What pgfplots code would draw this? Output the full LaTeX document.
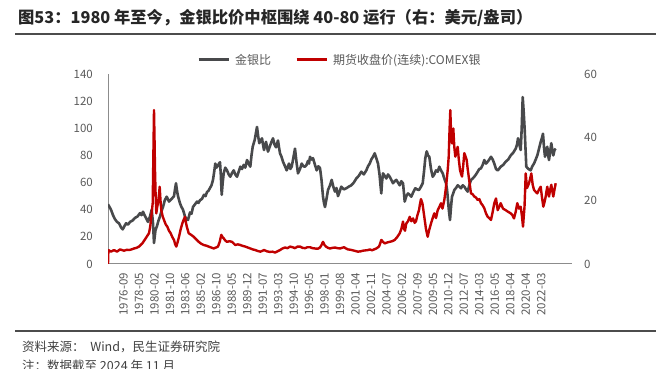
\documentclass[border=0pt]{standalone}
\usepackage{fontspec}
\setmainfont{Noto Sans CJK SC}
\usepackage{pgfplots}
\pgfplotsset{compat=1.18}
\definecolor{gline}{HTML}{48494B}
\definecolor{rline}{HTML}{C00000}
\definecolor{tickc}{HTML}{595959}
\definecolor{axl}{HTML}{8C8C8C}
\begin{document}
\begin{tikzpicture}[x=1pt,y=1pt]
\useasboundingbox (0,0) rectangle (656,369);
\node[anchor=west, inner sep=0pt, font=\fontsize{16.3}{19}\selectfont\bfseries, text=black!85] at (18,351) {图53：1980 年至今，金银比价中枢围绕 40-80 运行（右：美元/盎司）};
\draw[line width=1.5pt, color=black!70] (15,335) -- (656,335);
\draw[line width=1.5pt, color=black!70] (15,38) -- (656,38);
\node[anchor=west, inner sep=0pt, font=\fontsize{12.5}{14}\selectfont, text=black!75] at (22,22) {资料来源：\ \ Wind，民生证券研究院};
\node[anchor=west, inner sep=0pt, font=\fontsize{12.5}{14}\selectfont, text=black!75] at (22,3.5) {注：数据截至 2024 年 11 月};

\begin{axis}[
  at={(108pt,105pt)}, anchor=south west, scale only axis,
  width=464pt, height=190pt,
  xmin=108, xmax=572, ymin=0, ymax=140,
  axis x line*=bottom, axis y line*=left,
  axis line style={-, draw=axl, line width=1pt},
  major tick length=0pt,
  ytick={0,20,40,60,80,100,120,140},
  xtick={123.5,138.97,154.44,169.91,185.38,200.85,216.32,231.79,247.26,262.73,278.2,293.67,309.14,324.61,340.08,355.55,371.02,386.49,401.96,417.43,432.9,448.37,463.84,479.31,494.78,510.25,525.72,541.19},
  xticklabels={1976-09,1978-05,1980-02,1981-10,1983-06,1985-02,1986-10,1988-05,1989-12,1991-07,1993-03,1994-10,1996-05,1998-01,1999-08,2001-04,2002-11,2004-07,2006-02,2007-09,2009-05,2010-12,2012-07,2014-03,2016-05,2018-04,2020-04,2022-03},
  /pgf/number format/assume math mode=true,
  yticklabel style={font=\fontsize{11.5}{13}\selectfont, text=tickc, inner sep=0pt, anchor=east},
  yticklabel shift=15pt,
  xticklabel style={font=\fontsize{11.5}{13}\selectfont, text=tickc, inner sep=0pt, rotate=90, anchor=east},
  xticklabel shift=9pt,
  legend style={draw=none, fill=none, at={(0.1918,1.0737)}, anchor=west, inner sep=0pt,
    legend columns=2, font=\fontsize{12}{14}\selectfont, text=tickc,
    /tikz/every odd column/.append style={column sep=5pt},
    /tikz/every even column/.append style={column sep=24pt},
    nodes={inner sep=0pt}},
  legend image code/.code={\draw[#1, line width=3pt] (0pt,0pt) -- (30pt,0pt);},
]
\addplot[color=gline, line width=2.6pt, line join=round] coordinates {
(108,44)(109.5,42)(111,40)(113,36)(115,33)(117,31)(119,30)(121,27)(122.7,25.5)(124.5,28)(126,30)(128,29)(130,31)(132.5,32)(135,34)(137.5,35)(140,37.5)(141.5,36)(143,38.5)(144.5,36)(146,34)(148,31)(150,35)(151.7,40)(153,30)(154,15.5)(155.5,25)(157,28)(158.5,32)(160,35)(161.5,39)(163,42)(164.8,47)(166.7,49.6)(169,46)(171.7,48)(174,50)(175,55)(176,59.5)(177,54)(178,50)(180,44.7)(181.5,42)(183,40)(185,35)(186.5,33)(188,32.4)(190,38)(191.5,37)(193,42)(195,44)(197,46)(198.5,45)(200,47)(202,48)(204,51)(205.5,50)(207,53)(208.5,54)(210,56)(211.5,58)(213,62)(214.2,68)(215.3,74)(216.5,71)(217.5,72)(219,74)(220,75)(220.8,66)(221.7,51)(222.7,60)(223.7,66.8)(225.3,71)(227,69)(228.7,66)(230.3,64.3)(232,67)(233.7,69)(235.3,66)(237,64.3)(238.7,68)(240.3,71.7)(242,70)(243.7,73)(245.3,71)(247,76.6)(248.7,74)(250.3,71.7)(251.5,80)(252.7,86.4)(254.7,91.4)(255.8,96)(257,101)(258.2,94)(259.3,89)(260.7,91)(262,92.6)(263,88)(264,84)(266,90)(268,82.8)(270,87)(271.5,90)(273,92.6)(274.5,88)(276,86)(278,91)(279,86)(280,81.6)(281.5,79)(283,75.4)(285,72)(286.7,69)(288,72)(289,74)(290.3,70)(291.7,71.7)(293.3,78)(295,85)(296.5,75)(298,66.8)(300,70)(301.7,74)(303.3,72)(305,71.7)(306.5,73)(308,76)(309,74)(310,79)(311.5,77)(313,78)(315,73)(316.7,69)(318.3,72)(320,70.7)(321.5,62)(323,49.6)(324,45)(325,42)(326.5,48)(328,54.5)(330,58)(331.7,62)(333.3,57)(335,53.3)(336.5,56)(338,50)(339.5,53)(341.3,57)(343.8,55)(346.3,55.8)(348.8,57)(351.3,58)(353.8,60)(356.3,63)(358.8,65)(361.3,68)(363.8,66)(366.3,69)(368,72)(369.7,74)(371.3,77)(373,79)(374.7,81.6)(376.3,78)(378,74)(379.5,66)(380.5,58)(381.3,52)(382,60)(383,66.8)(384.7,65)(386.3,63)(388,66)(389.7,64.3)(391.3,62)(393,59.5)(394.7,61)(396.3,62)(398,60)(399.7,58)(401.3,61)(403,59.5)(404,52)(404.7,46)(406.3,50)(408,52)(409.7,51)(411.3,49.6)(413.3,53)(415.3,55.8)(417,55)(419,54.5)(421,57)(422.7,59.5)(424,68)(425.3,78)(426.7,83)(428,80)(429.3,79)(431,70)(432.7,64.3)(434.3,66)(436,69)(437.7,68)(439.3,71.7)(441,69)(442.7,66.8)(444.3,63)(446,59.5)(447,55)(447.7,49.6)(448.8,40)(450,32.4)(451,42)(452,49.6)(453.2,52)(454.3,54.5)(456,56)(457.7,58)(459.3,57)(461,55.8)(462.7,58)(464.3,57)(466,55)(467.7,53.3)(469.3,58)(471,62)(472.7,63)(474.3,64.3)(476,66)(477.7,68)(479.3,70)(481,70.5)(482.7,73)(484.3,76.6)(486,74)(487.7,75.4)(489.3,77)(491,79)(492.7,77)(494.3,74)(496,70)(497.7,69)(499,70)(500.7,71.7)(503.2,73)(505.7,75.4)(508.2,77)(510.7,80)(513.2,82)(515.7,85)(517,88)(518,92.6)(519.3,88)(520.7,84)(521.7,100)(522.7,123)(523.7,112)(524.7,98.7)(525.5,85)(526.3,71.7)(528.5,70)(530.7,69)(532.3,72)(534,74)(535.7,77)(537.3,80)(539,85)(540.7,90)(542,93)(543,96)(544,86)(545,79)(546,83)(547.3,86.4)(548.2,80)(549,76.6)(550.2,83)(551.3,89)(552.3,84)(553.3,80)(554.5,84)(555.7,85)
};
\addlegendentry{金银比}
\addlegendimage{color=rline, line width=2pt}
\addlegendentry{期货收盘价(连续):COMEX银}
\end{axis}

\begin{axis}[
  at={(108pt,105pt)}, anchor=south west, scale only axis,
  width=464pt, height=190pt,
  xmin=108, xmax=572, ymin=0, ymax=60,
  axis x line=none, axis y line*=right,
  y axis line style={draw=none},
  major tick length=0pt,
  ytick={0,20,40,60},
  /pgf/number format/assume math mode=true,
  yticklabel style={font=\fontsize{11.5}{13}\selectfont, text=tickc, inner sep=0pt, anchor=west},
  yticklabel shift=12pt,
]
\addplot[color=rline, line width=2.4pt, line join=round] coordinates {
(108,0)(108.4,4.4)(111,3.9)(114,4.4)(117,3.9)(120,4.6)(124,4.2)(127,4.5)(129,4.4)(131.5,4.6)(134,4.9)(136.5,5.1)(139,5.5)(142.3,6.5)(145.7,8.1)(147.5,9)(149,9.7)(150.3,12)(151.3,14.9)(152.7,19.2)(153.4,35)(154,48.6)(154.5,40)(155,29.7)(155.6,22)(156.3,16)(157.2,18)(158,19.2)(159,22)(159.7,24.4)(160.5,20)(161.3,17)(162.7,15)(164,13.9)(165.7,12.5)(167.3,11.8)(169,10.5)(170.7,9.7)(172.3,8.5)(174,7.6)(175.2,6.2)(176.3,5.5)(177.7,7)(179,8.6)(180.7,11)(182.3,12.8)(183.7,14)(185,14.9)(186,13)(186.8,11.8)(188.7,9.7)(191.2,9.2)(193.7,8.6)(196.2,7.8)(198.7,7.0)(201.2,6.4)(203.7,6.0)(206.2,5.8)(208.7,5.5)(211.2,5.2)(213.7,4.9)(216,5.2)(218,5.5)(219.7,7)(221.3,9.2)(222.5,8.5)(223.7,8.1)(225.3,7.4)(227,7.0)(229.5,7.2)(232,7.0)(233.7,6.5)(235.3,6.0)(237.8,6.2)(240.3,6.0)(242.8,5.7)(245.3,5.5)(247.8,5.2)(250.3,4.9)(252.8,4.6)(255.3,4.4)(257.8,4.1)(260.3,3.9)(262,4.1)(264,4.4)(267,4.0)(270,3.8)(272.5,3.9)(275,3.6)(277.5,4.0)(280,4.4)(282.5,4.9)(285,5.2)(287.5,5.0)(290,5.5)(292.5,5.3)(295,5.0)(297.5,5.5)(300,5.5)(302.5,5.1)(305,5.0)(307.5,5.3)(310,5.3)(312.5,5.0)(315,4.9)(317.5,4.8)(320,5.2)(321.5,6)(323,7.0)(324.5,6)(326,5.5)(328,5.1)(330,4.9)(332.5,5.1)(335,5.2)(337.5,5.0)(340,4.9)(342,5.1)(344,5.3)(346,4.9)(348,4.6)(350.5,4.5)(353,4.3)(355.5,4.1)(358,3.9)(360.5,4.0)(363,4.2)(365.5,4.3)(368,4.4)(370,4.6)(372,4.3)(374,4.6)(376.3,4.9)(379,5.5)(380.2,6.5)(381.3,7.6)(383,7)(384.7,6.5)(387.2,6.8)(389.7,7.0)(392.2,7.2)(394.7,7.6)(397.2,8.5)(399.7,9.7)(401.3,11)(403,13.4)(404.2,11)(405,10.5)(406.3,12.8)(408,13.5)(409.7,14.9)(411.3,13.5)(413,14.4)(414.7,13)(416,13.5)(417.5,15.5)(419,17)(420,19)(421,20.5)(422.5,19)(424.3,14.9)(426,11)(427.7,8.6)(429,10.5)(431,12.8)(432.7,14.5)(434.3,16)(436,14.5)(437.7,17)(439.3,18)(441,19.2)(442.5,17.5)(444.3,20.2)(445.5,23)(446.7,26.5)(447.8,30)(448.7,33.9)(449.5,42)(450.3,48.6)(451,42)(452,38.1)(453.3,42.8)(454.3,37)(455.3,33.9)(456.5,35.5)(457.7,37)(458.8,33)(460,29.7)(461,28.5)(462,27.6)(463.2,31)(464.3,35)(465.5,34)(466.7,32.8)(467.7,30)(468.7,27.6)(469.8,25)(471,22.3)(472.7,22)(474.3,21.3)(476,21)(477.7,20.2)(479.3,20.5)(481,19.2)(482.7,18.5)(484.3,17.6)(486,16)(487.7,14.9)(489.3,14.5)(491,13.9)(492.7,16.5)(494.3,19.2)(496,20.7)(497.7,17)(499.2,18)(500.7,19.2)(503,17.5)(505.7,17)(508,16.5)(510.7,16)(512.3,15.5)(514,14.4)(515.7,16.5)(517.3,19.2)(519,17.5)(520.7,18.1)(522,15)(523,11.8)(524,16)(524.5,18)(525.2,24)(525.7,28.6)(527,24)(529,25.5)(530.2,27)(531.3,28.6)(532.7,25)(534,23.4)(535.7,22.8)(537.3,22.3)(539,23.5)(540.7,24.4)(542,21)(543.3,18.1)(544.5,19.5)(545.7,21.3)(546.5,23)(547.3,24.4)(548.2,22.5)(549,21.3)(550.2,23.5)(551.3,25)(552.3,23)(553.3,21.3)(554.5,23.5)(555.7,25.5)
};
\end{axis}
\end{tikzpicture}
\end{document}
